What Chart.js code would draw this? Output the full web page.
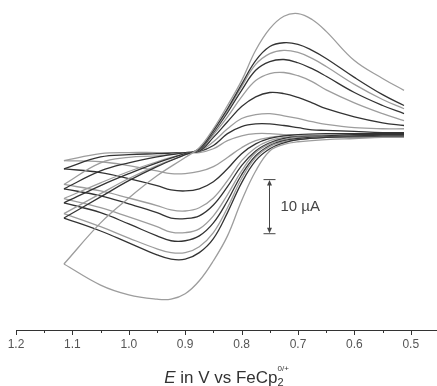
<!DOCTYPE html>
<html>
<head>
<meta charset="utf-8">
<script src="https://cdn.jsdelivr.net/npm/chart.js@4.4.1/dist/chart.umd.min.js"></script>
<style>
  html, body { margin: 0; padding: 0; background: #fff; }
  canvas { display: block; }
</style>
</head>
<body>
<canvas id="cvChart" width="437" height="386"></canvas>
<script>
// potential points (V vs FeCp2 0/+), forward sweep runs 1.115 -> 0.512, backward returns
const eForward = [1.115, 1.05, 1.0, 0.95, 0.9, 0.875, 0.85, 0.825, 0.8, 0.775, 0.75, 0.725, 0.7, 0.675, 0.65, 0.6, 0.55, 0.512];
const eBackward = [0.512, 0.55, 0.6, 0.65, 0.7, 0.725, 0.75, 0.775, 0.8, 0.825, 0.85, 0.875, 0.9, 0.925, 0.95, 1.0, 1.05, 1.115];

// current in µA, one forward/backward pair per scan rate (fastest first)
const iFwd1 = [-22.8, -15.2, -10.6, -6.5, -3.1, -1.3, 2.2, 6.5, 11.1, 16.7, 20.7, 23.0, 23.5, 22.4, 20.2, 14.8, 11.5, 9.3];
const iBwd1 = [0.6, 0.6, 0.4, 0.2, -0.2, -0.7, -1.9, -5.6, -11.1, -17.6, -22.2, -25.9, -28.3, -29.3, -29.3, -28.5, -26.7, -22.8];
const iFwd2 = [-14.3, -10.4, -7.4, -4.8, -2.6, -1.5, 1.9, 5.9, 10.4, 14.8, 17.4, 18.1, 17.8, 16.7, 15.2, 11.7, 8.5, 6.5];
const iBwd2 = [0.7, 0.7, 0.7, 0.6, 0.2, -0.4, -1.5, -3.7, -7.8, -13.3, -18.1, -20.7, -21.9, -21.9, -21.1, -18.9, -16.7, -14.3];
const iFwd3 = [-13.5, -9.8, -7.0, -4.6, -2.6, -1.5, 1.7, 5.6, 10.0, 14.1, 16.1, 16.7, 16.3, 15.2, 13.7, 10.4, 7.6, 5.9];
const iBwd3 = [0.7, 0.7, 0.7, 0.6, 0.2, -0.2, -1.1, -3.1, -7.0, -12.4, -17.0, -19.6, -20.7, -20.7, -20.0, -18.0, -15.9, -13.5];
const iFwd4 = [-11.5, -8.3, -6.1, -4.1, -2.4, -1.7, 1.5, 5.2, 9.3, 13.0, 14.6, 15.0, 14.4, 13.3, 11.9, 8.9, 6.5, 5.0];
const iBwd4 = [0.9, 0.9, 0.9, 0.7, 0.4, 0, -0.9, -2.8, -6.3, -11.1, -15.2, -17.6, -18.5, -18.5, -17.6, -15.4, -13.3, -11.5];
const iFwd5 = [-10.7, -7.8, -5.7, -3.9, -2.4, -1.7, 1.1, 4.4, 8.1, 11.1, 12.4, 12.6, 12.0, 10.9, 9.4, 7.0, 5.0, 3.7];
const iBwd5 = [0.9, 0.9, 0.9, 0.7, 0.6, 0.2, -0.6, -2.2, -5.6, -10.0, -13.9, -16.3, -17.0, -16.9, -15.9, -14.1, -12.4, -10.7];
const iFwd6 = [-8.9, -5.6, -4.1, -3.0, -2.2, -1.9, 0.6, 3.5, 6.3, 8.1, 8.9, 8.7, 8.0, 7.0, 5.9, 4.4, 3.3, 2.8];
const iBwd6 = [1.1, 1.1, 1.1, 0.9, 0.7, 0.4, -0.4, -1.9, -4.6, -8.5, -11.9, -13.9, -14.4, -14.3, -13.3, -11.7, -10.2, -8.9];
const iFwd7 = [-8.1, -4.1, -3.1, -2.8, -2.2, -1.9, -0.2, 2.2, 4.1, 4.8, 5.0, 4.6, 4.1, 3.5, 3.0, 2.4, 2.2, 2.2];
const iBwd7 = [1.1, 1.1, 1.1, 1.1, 0.9, 0.6, 0, -1.3, -3.7, -7.4, -10.6, -12.4, -13.0, -12.8, -12.0, -10.6, -9.3, -8.1];
const iFwd8 = [-5.2, -3.0, -2.6, -2.4, -2.2, -2.0, -0.9, 1.3, 2.6, 3.1, 3.1, 2.8, 2.4, 2.0, 1.9, 1.7, 1.5, 1.5];
const iBwd8 = [1.3, 1.3, 1.3, 1.3, 1.1, 0.9, 0.4, -0.6, -2.4, -5.2, -7.6, -8.9, -9.3, -9.1, -8.3, -7.0, -5.9, -5.2];
const iFwd9 = [-3.7, -2.4, -2.2, -2.2, -2.2, -2.2, -1.5, 0, 0.9, 1.3, 1.3, 1.1, 1.1, 0.9, 0.9, 0.9, 0.9, 0.9];
const iBwd9 = [1.3, 1.3, 1.3, 1.3, 1.1, 0.9, 0.6, 0, -1.3, -3.1, -4.8, -5.7, -6.1, -6.1, -5.6, -4.6, -3.9, -3.7];

// scale bar: 10 µA drawn at this potential
const scaleBarE = 0.751;
const scaleBarTop = -7.2;
const scaleBarSize = 10;

const sweeps = [
    [iFwd1, iBwd1], [iFwd2, iBwd2], [iFwd3, iBwd3], [iFwd4, iBwd4], [iFwd5, iBwd5],
    [iFwd6, iBwd6], [iFwd7, iBwd7], [iFwd8, iBwd8], [iFwd9, iBwd9]
];
const GRAY = "#9d9d9d";
const DARK = "#333333";

function toPoints(es, is) {
    return es.map((e, k) => ({ x: e, y: is[k] }));
}

const datasets = [];
sweeps.forEach(([fwd, bwd], n) => {
    const color = n % 2 === 0 ? GRAY : DARK;
    [toPoints(eForward, fwd), toPoints(eBackward, bwd)].forEach(pts => {
        datasets.push({
            data: pts,
            borderColor: color,
            borderWidth: 1.3,
            pointRadius: 0,
            tension: 0.4,
            fill: false
        });
    });
});

// tick marks: long at 0.1 V, short at 0.05 V
const axisTicks = {
    id: "axisTicks",
    afterDraw(chart) {
        const { ctx, scales: { x } } = chart;
        ctx.save();
        ctx.strokeStyle = "#333";
        ctx.lineWidth = 1;
        x.ticks.forEach(t => {
            const px = Math.round(x.getPixelForValue(t.value)) + 0.5;
            const major = Math.round(t.value * 100) % 10 === 0;
            ctx.beginPath();
            ctx.moveTo(px, x.top);
            ctx.lineTo(px, x.top + (major ? 5 : 3));
            ctx.stroke();
        });
        ctx.restore();
    }
};

// axis title with italic E, subscript 2 and superscript 0/+
const axisTitle = {
    id: "axisTitle",
    afterDraw(chart) {
        const { ctx, chartArea } = chart;
        const base = 383;
        const family = "'Liberation Sans', Arial, sans-serif";
        const parts = [
            { t: "E", font: "italic 17px " + family, dy: 0 },
            { t: " in V vs FeCp", font: "17px " + family, dy: 0 },
            { t: "2", font: "11px " + family, dy: 3 },
            { t: "0/+", font: "8px " + family, dy: -12 }
        ];
        ctx.save();
        ctx.fillStyle = "#333";
        ctx.textBaseline = "alphabetic";
        let width = 0;
        parts.forEach(p => { ctx.font = p.font; p.w = ctx.measureText(p.t).width; width += p.w; });
        width -= parts[3].w > parts[2].w ? parts[2].w : 0;
        let xPos = (chartArea.left + chartArea.right) / 2 - width / 2;
        parts.forEach((p, k) => {
            ctx.font = p.font;
            ctx.fillText(p.t, xPos, base + p.dy);
            if (k !== 2) xPos += p.w;
        });
        ctx.restore();
    }
};

// vertical 10 µA bar with arrow heads
const scaleBar = {
    id: "scaleBar",
    afterDraw(chart) {
        const { ctx, scales: { x, y } } = chart;
        const px = Math.round(x.getPixelForValue(scaleBarE)) + 0.5;
        const top = y.getPixelForValue(scaleBarTop);
        const bottom = y.getPixelForValue(scaleBarTop - scaleBarSize);
        ctx.save();
        ctx.strokeStyle = "#444";
        ctx.fillStyle = "#444";
        ctx.lineWidth = 1;
        ctx.beginPath();
        ctx.moveTo(px, top + 2);
        ctx.lineTo(px, bottom - 2);
        ctx.moveTo(px - 6, top);
        ctx.lineTo(px + 6, top);
        ctx.moveTo(px - 6, bottom);
        ctx.lineTo(px + 6, bottom);
        ctx.stroke();
        ctx.beginPath();
        ctx.moveTo(px, top + 0.5);
        ctx.lineTo(px - 2.5, top + 6);
        ctx.lineTo(px + 2.5, top + 6);
        ctx.closePath();
        ctx.moveTo(px, bottom - 0.5);
        ctx.lineTo(px - 2.5, bottom - 6);
        ctx.lineTo(px + 2.5, bottom - 6);
        ctx.closePath();
        ctx.fill();
        ctx.font = "15px 'Liberation Sans', Arial, sans-serif";
        ctx.textBaseline = "middle";
        ctx.fillText(scaleBarSize + " \u00B5A", px + 11, (top + bottom) / 2);
        ctx.restore();
    }
};

const cvChart = new Chart(document.getElementById("cvChart").getContext("2d"), {
    type: "line",
    data: { datasets: datasets },
    plugins: [axisTicks, axisTitle, scaleBar],
    options: {
        responsive: false,
        animation: false,
        devicePixelRatio: 1,
        layout: { padding: { left: 16, right: 0, top: 0, bottom: 27.6 } },
        plugins: { legend: { display: false }, tooltip: { enabled: false } },
        scales: {
            x: {
                type: "linear",
                reverse: true,
                min: 0.4535,
                max: 1.2,
                grid: { display: false, drawTicks: false, tickLength: 0 },
                border: { display: true, color: "#333", width: 1 },
                ticks: {
                    stepSize: 0.05,
                    includeBounds: false,
                    autoSkip: false,
                    maxRotation: 0,
                    padding: 7,
                    color: "#555",
                    font: { family: "'Liberation Sans', Arial, sans-serif", size: 12 },
                    callback: v => Math.round(v * 100) % 10 === 0 ? v.toFixed(1) : ""
                }
            },
            y: {
                type: "linear",
                display: false,
                min: -35,
                max: 26
            }
        }
    }
});
</script>
</body>
</html>
